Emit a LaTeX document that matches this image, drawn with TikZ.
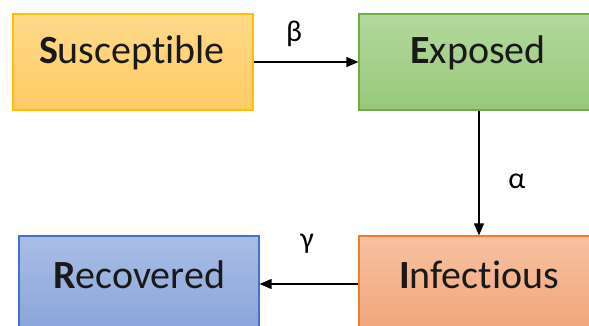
\documentclass[tikz,border=0pt]{standalone}
\usepackage{fontspec}
\setmainfont{Carlito}[Ligatures=NoCommon]
\usetikzlibrary{arrows.meta}
\begin{document}
\begin{tikzpicture}[x=1pt,y=1pt,
  box/.style={draw, line width=1.2pt, minimum width=240pt, minimum height=96pt, inner sep=0pt},
  lbl/.style={font=\fontsize{40}{42}\selectfont, text=black!90},
  greek/.style={font=\fontsize{30}{32}\selectfont},
  conn/.style={line width=1.3pt, -{Triangle[length=12pt,width=10pt]}}
]
\definecolor{sfill1}{HTML}{FFDA8A}
\definecolor{sfill2}{HTML}{FFCB63}
\definecolor{sdraw}{HTML}{FFC000}
\definecolor{efill1}{HTML}{B3D89C}
\definecolor{efill2}{HTML}{98C97A}
\definecolor{edraw}{HTML}{70AD47}
\definecolor{rfill1}{HTML}{A9BDE6}
\definecolor{rfill2}{HTML}{8AA5DA}
\definecolor{rdraw}{HTML}{4472C4}
\definecolor{ifill1}{HTML}{F7C1A0}
\definecolor{ifill2}{HTML}{F2A57A}
\definecolor{idraw}{HTML}{ED7D31}
\useasboundingbox (0,0) rectangle (589,326);
\clip (0,0) rectangle (589,326);
\node[box, draw=sdraw, top color=sfill1, bottom color=sfill2] (S) at (133,264) {};
\node[box, draw=edraw, top color=efill1, bottom color=efill2] (E) at (479,264) {};
\node[box, draw=rdraw, top color=rfill1, bottom color=rfill2] (R) at (139,42) {};
\node[box, draw=idraw, top color=ifill1, bottom color=ifill2] (I) at (479,42) {};
\node[lbl] (St) at (132,273) {\textbf{S}usceptible};
\node[lbl] (Et) at (478,273) {\textbf{E}xposed};
\node[lbl] (Rt) at (139,51) {\textbf{R}ecovered};
\node[lbl] (It) at (479,51) {\textbf{I}nfectious};
\draw[conn] (S.east) -- (E.west);
\draw[conn] (E.south) -- (I.north);
\draw[conn] (I.west) -- (R.east);
\node[greek] (b) at (294,292) {β};
\node[greek] (a) at (517,145) {α};
\node[greek] (g) at (307,82) {γ};
\end{tikzpicture}
\end{document}
